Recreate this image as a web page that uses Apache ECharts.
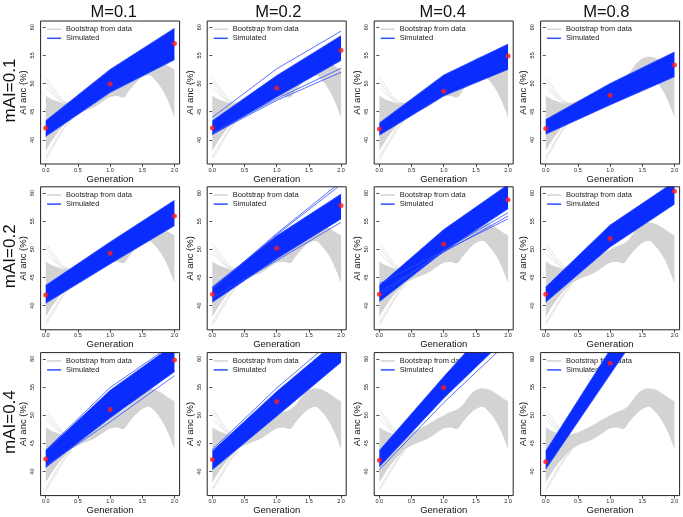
<!DOCTYPE html>
<html><head><meta charset="utf-8">
<script src="https://cdn.jsdelivr.net/npm/echarts@6/dist/echarts.min.js"></script>
<style>html,body{margin:0;padding:0;background:#fff}#c{width:683px;height:517px}</style>
</head><body><div id="c"></div>
<script>
// ---- labels / ticks ----
const colLabels = ['M=0.1', 'M=0.2', 'M=0.4', 'M=0.8'];
const rowLabels = ['mAI=0.1', 'mAI=0.2', 'mAI=0.4'];
const xTicks = [0, 0.5, 1, 1.5, 2];
const xTickLabels = ['0.0', '0.5', '1.0', '1.5', '2.0'];
const yTicks = [40, 45, 50, 55, 60];
const generations = [0, 1, 2];

// ---- bootstrap (gray) curves: envelope + sparse fan curves near generation 0 ----
const bootX    = [0, 0.1, 0.2, 0.3, 0.4, 0.5, 0.6, 0.75, 0.9, 1.0, 1.1, 1.2, 1.3, 1.4, 1.5, 1.6, 1.7, 1.8, 1.9, 2.0];
const bootHigh = [47.8, 47.1, 46.7, 46.4, 46.5, 46.9, 47.4, 48.3, 49.3, 49.9, 50.5, 50.9, 51.8, 53.4, 54.4, 54.7, 54.5, 53.9, 53.1, 52.4];
const bootLow  = [38.0, 39.9, 41.5, 42.8, 43.9, 44.6, 45.1, 45.8, 46.9, 47.6, 47.8, 47.5, 48.8, 50.1, 51.1, 51.5, 50.6, 49.1, 46.9, 44.0];
const fanX = [0, 0.1, 0.2, 0.3, 0.4];
const fanCurves = [
  [51.0, 49.5, 47.9, 46.8, 46.4],
  [50.3, 48.8, 47.4, 46.5, 46.3],
  [49.3, 48.2, 47.2, 46.6, 46.5],
  [37.0, 38.9, 40.8, 42.5, 43.7],
  [36.6, 38.4, 40.4, 42.2, 43.6]
];

// ---- simulated (blue) band per panel: lower / upper at generations 0,1,2 ----
const simLowRow1  = [[40.6, 48.4, 54.2], [40.9, 47.6, 54.1], [40.8, 47.8, 52.5], [41.0, 46.2, 51.2]];
const simHighRow1 = [[43.4, 52.5, 59.8], [43.4, 51.4, 58.5], [43.0, 51.5, 57.0], [43.6, 50.0, 55.6]];
const simLowRow2  = [[40.4, 47.4, 54.2], [40.6, 48.3, 55.4], [40.7, 49.6, 57.2], [40.6, 50.4, 58.0]];
const simHighRow2 = [[43.6, 51.3, 58.7], [43.3, 52.4, 59.8], [43.6, 53.5, 61.5], [43.3, 54.3, 62.0]];
const simLowRow3  = [[40.7, 49.5, 57.7], [40.3, 49.8, 59.4], [40.8, 53.0, 64.0], [40.4, 57.2, 74.0]];
const simHighRow3 = [[43.7, 54.4, 62.6], [43.6, 54.2, 63.8], [43.7, 56.8, 69.5], [43.6, 61.6, 79.5]];
// separate simulated lines lying outside the dense band
const simOutRow1 = [[], [[44.0, 52.6, 59.3], [41.0, 47.0, 52.0], [41.2, 47.3, 52.7]], [], []];
const simOutRow2 = [[], [[42.9, 52.8, 62.0], [43.1, 52.6, 61.5], [41.4, 48.0, 54.8]],
                    [[43.9, 49.7, 55.4], [42.3, 49.5, 55.9], [41.6, 49.8, 56.5]], []];
const simOutRow3 = [[[43.8, 54.9, 62.8], [41.0, 48.8, 57.0]], [[43.9, 54.8, 64.5]], [[40.3, 52.2, 63.0]], []];

// ---- observed (red) points per panel at generations 0,1,2 ----
const obsRow1 = [[42.1, 49.9, 57.1], [42.1, 49.2, 55.9], [41.9, 48.6, 54.9], [42.0, 47.9, 53.3]];
const obsRow2 = [[41.9, 49.3, 55.9], [42.0, 50.2, 57.8], [42.0, 50.9, 58.8], [42.0, 51.9, 60.3]];
const obsRow3 = [[42.2, 51.0, 59.8], [42.1, 52.4, null], [42.0, 54.9, null], [41.7, 59.2, null]];

const simLow = [simLowRow1, simLowRow2, simLowRow3];
const simHigh = [simHighRow1, simHighRow2, simHighRow3];
const simOut = [simOutRow1, simOutRow2, simOutRow3];
const obs = [obsRow1, obsRow2, obsRow3];

// ---- layout ----
const FONT = 'Liberation Sans, Arial, Helvetica, sans-serif';
const gridLeft = [40.6, 207.2, 374.2, 540.6];
const gridTop = [21, 186.8, 352.6];
const gridW = 139, gridH = 143;
const colTitleX = [113.7, 278.3, 442.7, 606.3];
const GRAY = '#d3d3d3';
const BLUE = '#0a2cff';
const BLUE_LINE = '#2f4dff';
const RED = '#ff1a1a';

const grids = [], xAxes = [], yAxes = [], series = [], legends = [], graphics = [];
// data rows are [y, x] so that stacking acts on the y value
const yx = (xs, ys) => xs.map((x, i) => [ys[i], x]);
const ENC = {x: 1, y: 0};

for (let r = 0; r < 3; r++) {
  for (let c = 0; c < 4; c++) {
    const idx = r * 4 + c;
    grids.push({left: gridLeft[c], top: gridTop[r], width: gridW, height: gridH,
      show: true, borderColor: '#222', borderWidth: 1, backgroundColor: 'transparent', z: 10});
    xAxes.push({gridIndex: idx, type: 'value', min: -0.08, max: 2.08,
      splitLine: {show: false}, axisLine: {show: false},
      axisTick: {show: true, length: 3, customValues: xTicks, lineStyle: {color: '#222', width: 0.8}},
      axisLabel: {customValues: xTicks, fontSize: 5.5, margin: 3, color: '#222', fontFamily: FONT,
        formatter: v => xTickLabels[xTicks.indexOf(v)]},
      name: 'Generation', nameLocation: 'middle', nameGap: 10,
      nameTextStyle: {fontSize: 9.5, color: '#111', fontFamily: FONT}});
    yAxes.push({gridIndex: idx, type: 'value', min: 35.7, max: 61.1,
      splitLine: {show: false}, axisLine: {show: false},
      axisTick: {show: true, length: 3, customValues: yTicks, lineStyle: {color: '#222', width: 0.8}},
      axisLabel: {customValues: yTicks, fontSize: 5.5, margin: 5, rotate: 90, color: '#222', fontFamily: FONT},
      name: 'AI anc (%)', nameLocation: 'middle', nameGap: 12,
      nameTextStyle: {fontSize: 9.5, color: '#111', fontFamily: FONT}});

    const ax = {xAxisIndex: idx, yAxisIndex: idx, encode: ENC};
    // gray bootstrap envelope
    series.push(Object.assign({type: 'line', name: 'bootLow', stack: 'boot' + idx, smooth: 0.35,
      symbol: 'none', silent: true, z: 2, lineStyle: {width: 0, opacity: 0},
      data: yx(bootX, bootLow)}, ax));
    series.push(Object.assign({type: 'line', name: 'Bootstrap from data', stack: 'boot' + idx, smooth: 0.35,
      symbol: 'none', silent: true, z: 2, color: GRAY, lineStyle: {width: 0.6, color: GRAY},
      areaStyle: {color: GRAY, opacity: 1},
      data: yx(bootX, bootHigh.map((h, i) => h - bootLow[i]))}, ax));
    fanCurves.forEach(fc => {
      series.push(Object.assign({type: 'line', name: 'bootFan', smooth: 0.35, symbol: 'none', silent: true, z: 2,
        lineStyle: {width: 0.7, color: '#d6d6d6'}, data: yx(fanX, fc)}, ax));
    });
    // blue simulated band
    const lo = simLow[r][c], hi = simHigh[r][c];
    series.push(Object.assign({type: 'line', name: 'simLow', stack: 'sim' + idx, symbol: 'none', silent: true, z: 3,
      lineStyle: {width: 0, opacity: 0}, data: yx(generations, lo)}, ax));
    series.push(Object.assign({type: 'line', name: 'Simulated', stack: 'sim' + idx, symbol: 'none', silent: true, z: 3,
      color: BLUE, lineStyle: {width: 0.8, color: BLUE_LINE}, areaStyle: {color: BLUE, opacity: 1},
      data: yx(generations, hi.map((h, i) => h - lo[i]))}, ax));
    series.push(Object.assign({type: 'line', name: 'simLowEdge', symbol: 'none', silent: true, z: 3,
      lineStyle: {width: 0.8, color: BLUE_LINE}, data: yx(generations, lo)}, ax));
    simOut[r][c].forEach(line => {
      series.push(Object.assign({type: 'line', name: 'simOut', symbol: 'none', silent: true, z: 3,
        lineStyle: {width: 0.8, color: BLUE_LINE}, data: yx(generations, line)}, ax));
    });
    // red observed points
    series.push(Object.assign({type: 'scatter', name: 'obs', symbolSize: 5, silent: true, z: 5,
      itemStyle: {color: RED},
      data: yx(generations, obs[r][c]).filter(p => p[0] !== null)}, ax));

    legends.push({left: gridLeft[c] + 6.5, top: gridTop[r] + 3.8, orient: 'vertical', itemGap: 0,
      itemWidth: 14, itemHeight: 1.5, icon: 'rect', padding: 0, selectedMode: false, z: 1,
      textStyle: {fontSize: 7.5, lineHeight: 9, color: '#222', fontFamily: FONT},
      data: [{name: 'Bootstrap from data', itemStyle: {color: GRAY}},
             {name: 'Simulated', itemStyle: {color: BLUE_LINE}}]});
  }
}

colLabels.forEach((t, c) => {
  graphics.push({type: 'text', x: colTitleX[c], y: 12.7, z: 20,
    style: {text: t, fontSize: 16.5, fontFamily: FONT, fill: '#111', align: 'center', verticalAlign: 'middle'}});
});
rowLabels.forEach((t, r) => {
  graphics.push({type: 'text', x: 10.5, y: gridTop[r] + gridH / 2 - 2, rotation: Math.PI / 2, z: 20,
    style: {text: t, fontSize: 17, fontFamily: FONT, fill: '#111', align: 'center', verticalAlign: 'middle'}});
});

const chart = echarts.init(document.getElementById('c'), null, {renderer: 'canvas'});
chart.setOption({
  animation: false,
  backgroundColor: '#fff',
  grid: grids, xAxis: xAxes, yAxis: yAxes, series: series, legend: legends, graphic: graphics
});
</script></body></html>
